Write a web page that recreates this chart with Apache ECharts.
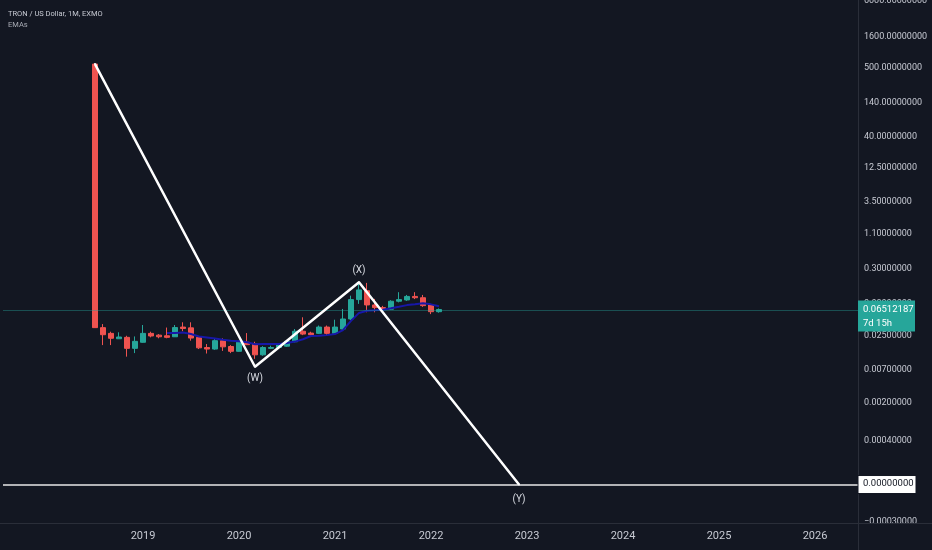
<!DOCTYPE html>
<html>
<head>
<meta charset="utf-8">
<script src="https://cdn.jsdelivr.net/npm/echarts@6/dist/echarts.min.js"></script>
<style>
html,body{margin:0;padding:0;background:#131722;}
#c{width:932px;height:550px;}
</style>
</head>
<body>
<div id="c"></div>
<script>
// ---- data ----
const candleMonths = ['2018-07','2018-08','2018-09','2018-10','2018-11','2018-12',
  '2019-01','2019-02','2019-03','2019-04','2019-05','2019-06','2019-07','2019-08','2019-09','2019-10','2019-11','2019-12',
  '2020-01','2020-02','2020-03','2020-04','2020-05','2020-06','2020-07','2020-08','2020-09','2020-10','2020-11','2020-12',
  '2021-01','2021-02','2021-03','2021-04','2021-05','2021-06','2021-07','2021-08','2021-09','2021-10','2021-11','2021-12',
  '2022-01','2022-02'];
const opens  = [580,0.0333,0.0269,0.0220,0.0232,0.0154,0.0193,0.0269,0.0252,0.0246,0.0237,0.0340,0.0330,0.0232,0.0159,0.0150,0.0205,0.0165,
  0.0138,0.0193,0.0181,0.0121,0.0154,0.0159,0.0167,0.0197,0.0291,0.0272,0.0269,0.0340,
  0.0269,0.0316,0.0459,0.0942,0.131,0.0773,0.0700,0.0660,0.0887,0.0930,0.106,0.101,0.0773,0.0602];
const closes = [0.0333,0.0256,0.0224,0.0235,0.0154,0.0200,0.0269,0.0244,0.0237,0.0232,0.0334,0.0322,0.0226,0.0157,0.0150,0.0205,0.0163,0.0138,
  0.0193,0.0177,0.0121,0.0159,0.0159,0.0177,0.0200,0.0291,0.0262,0.0256,0.0340,0.0269,
  0.0340,0.0459,0.0942,0.135,0.0773,0.0700,0.0674,0.0887,0.0942,0.106,0.101,0.0754,0.0602,0.06512187];
const lows   = [0.0333,0.0174,0.0174,0.0218,0.0113,0.0129,0.0190,0.0232,0.0224,0.0224,0.0235,0.0291,0.0205,0.0150,0.0127,0.0146,0.0140,0.0129,
  0.0136,0.0174,0.0104,0.0117,0.0150,0.0155,0.0163,0.0193,0.0252,0.0246,0.0262,0.0256,
  0.0262,0.0300,0.0440,0.0804,0.0589,0.0589,0.0650,0.0640,0.0850,0.0900,0.096,0.072,0.055,0.058];
const highs  = [600,0.038,0.0286,0.0280,0.0246,0.0240,0.0367,0.0286,0.0262,0.0334,0.0367,0.0406,0.0406,0.0240,0.0181,0.0224,0.0224,0.0174,
  0.0205,0.0272,0.0197,0.0167,0.0170,0.0185,0.0205,0.0316,0.0489,0.0286,0.0360,0.0360,
  0.0447,0.0666,0.109,0.180,0.175,0.0967,0.0746,0.0920,0.124,0.112,0.124,0.112,0.080,0.068];
const emaStart = '2019-04';
const emaValues = [0.0272,0.0272,0.0277,0.0262,0.0240,0.0231,0.0222,0.0212,0.0204,
  0.0200,0.0194,0.0180,0.0181,0.0181,0.0181,0.0188,0.0198,0.0216,0.0244,0.0246,0.0252,
  0.0262,0.0304,0.0428,0.0575,0.0623,0.0635,0.0647,0.0684,0.0724,0.0768,0.0790,0.0822,
  0.0790,0.0737];
const waveMonths = ['2018-07','2020-03','2021-04','2022-12'];
const wavePrices = [580,0.00775,0.179,0];
const waveLabels = ['','(W)','(X)','(Y)'];
const lastPrice = 0.06512187;
const lastPriceText = '0.06512187';
const countdownText = '7d 15h';
const zeroText = '0.00000000';
const yTickValues = [6000,1600,500,140,40,12.5,3.5,1.1,0.3,0.08,0.025,0.007,0.002,0.0004,0,-0.0003];
const yTickLabels = ['6000.00000000','1600.00000000','500.00000000','140.00000000','40.00000000','12.50000000',
  '3.50000000','1.10000000','0.30000000','0.08000000','0.02500000','0.00700000','0.00200000','0.00040000',
  '0.00000000','\u22120.00030000'];
const xYearLabels = ['2019','2020','2021','2022','2023','2024','2025','2026'];
const axisStartMonth = '2017-08';
const axisMonthCount = 107;
const titleText = 'TRON / US Dollar, 1M, EXMO';
const subText = 'EMAs';

// ---- helpers ----
const C = 1e-4;
function S(v){ return Math.sign(v) * Math.log10(1 + Math.abs(v) / C); }
function monthAdd(m, k){
  let y = +m.slice(0,4), mo = +m.slice(5,7) - 1 + k;
  y += Math.floor(mo / 12); mo = ((mo % 12) + 12) % 12;
  return y + '-' + String(mo + 1).padStart(2, '0');
}
const categories = [];
for (let i = 0; i < axisMonthCount; i++) categories.push(monthAdd(axisStartMonth, i));

const candleSeries = categories.map(m => {
  const k = candleMonths.indexOf(m);
  return k < 0 ? '-' : [S(opens[k]), S(closes[k]), S(lows[k]), S(highs[k])];
});
const emaData = emaValues.map((v, i) => [monthAdd(emaStart, i), S(v)]);
const labelPos = ['bottom','bottom','top','bottom'];
const labelDist = [6, 6, 6, 9];
const waveData = waveMonths.map((m, i) => ({
  value: [m, S(wavePrices[i])],
  label: { show: !!waveLabels[i], formatter: waveLabels[i], position: labelPos[i], distance: labelDist[i] }
}));
const yCustom = yTickValues.map(S);

const FONT = 'Roboto, "Liberation Sans", sans-serif';

const chart = echarts.init(document.getElementById('c'), null, { renderer: 'canvas' });
const option = {
  backgroundColor: '#131722',
  animation: false,
  title: {
    text: titleText, subtext: subText, left: 3, top: 5, itemGap: 3,
    textStyle: { color: '#c7cad3', fontSize: 7.5, fontWeight: 'normal', fontFamily: FONT },
    subtextStyle: { color: '#a9acb5', fontSize: 7.5, fontFamily: FONT }
  },
  grid: { left: 3, right: 73, top: 0, bottom: 27, containLabel: false, outerBoundsMode: 'none' },
  xAxis: {
    type: 'category', data: categories, boundaryGap: true,
    axisLine: { show: false }, axisTick: { show: false }, splitLine: { show: false },
    axisLabel: {
      interval: (idx, val) => val.slice(5) === '01' && xYearLabels.indexOf(val.slice(0,4)) >= 0,
      formatter: v => v.slice(0,4),
      color: '#c7cad3', fontSize: 11, fontFamily: FONT, margin: 8
    }
  },
  yAxis: {
    type: 'value', position: 'right', min: -0.619, max: 7.794,
    splitLine: { show: false }, axisTick: { show: false }, axisLine: { show: false },
    axisLabel: {
      customValues: yCustom,
      formatter: v => {
        let best = 0, d = Infinity;
        yCustom.forEach((s, i) => { const dd = Math.abs(s - v); if (dd < d) { d = dd; best = i; } });
        return yTickLabels[best];
      },
      color: '#c7cad3', fontSize: 9, fontFamily: FONT, margin: 5, align: 'left'
    }
  },
  series: [
    {
      type: 'candlestick', data: candleSeries, barWidth: '70%',
      itemStyle: { color: '#26a69a', color0: '#ef5350', borderColor: '#26a69a', borderColor0: '#ef5350', borderWidth: 1 },
      markLine: {
        silent: true, symbol: ['none','none'], animation: false,
        label: { show: false },
        data: [
          { yAxis: S(lastPrice), lineStyle: { color: '#26a69a', opacity: 0.4, width: 1, type: 'solid' } },
          { yAxis: S(0), lineStyle: { color: '#e8e8e8', width: 1.6, type: 'solid' } }
        ]
      },
      z: 3
    },
    {
      type: 'line', data: emaData, showSymbol: false, symbol: 'none',
      lineStyle: { color: '#1717a8', width: 2 }, z: 4
    },
    {
      type: 'line', data: waveData, symbol: 'circle', symbolSize: 2, showSymbol: true,
      itemStyle: { color: '#ffffff' },
      lineStyle: { color: '#ffffff', width: 2.5 },
      label: { color: '#d8dbe2', fontSize: 10, fontFamily: FONT },
      z: 5
    }
  ]
};
chart.setOption(option);

const yLast = chart.convertToPixel({ yAxisIndex: 0 }, S(lastPrice));
const yZero = chart.convertToPixel({ yAxisIndex: 0 }, S(0));
const gridRight = 932 - 73;
const gridBottom = 550 - 27;
chart.setOption({
  graphic: [
    { type: 'line', shape: { x1: gridRight - 0.5, y1: 0, x2: gridRight - 0.5, y2: 550 }, style: { stroke: '#2a2e39', lineWidth: 1 }, z: 1 },
    { type: 'line', shape: { x1: 0, y1: gridBottom + 0.5, x2: 932, y2: gridBottom + 0.5 }, style: { stroke: '#2a2e39', lineWidth: 1 }, z: 1 },
    { type: 'rect', shape: { x: gridRight - 1, y: yLast - 9, width: 57, height: 31 }, style: { fill: '#26a69a' }, z: 100 },
    { type: 'text', x: gridRight + 4, y: yLast - 7, style: { text: lastPriceText + '\n' + countdownText, fill: '#ffffff', font: '9.5px ' + FONT, lineHeight: 14 }, z: 101 },
    { type: 'rect', shape: { x: gridRight - 1, y: yZero - 9, width: 58, height: 18 }, style: { fill: '#ffffff', stroke: '#131722', lineWidth: 1 }, z: 100 },
    { type: 'text', x: gridRight + 4, y: yZero - 5.5, style: { text: zeroText, fill: '#131722', font: '9.5px ' + FONT }, z: 101 }
  ]
});
</script>
</body>
</html>
